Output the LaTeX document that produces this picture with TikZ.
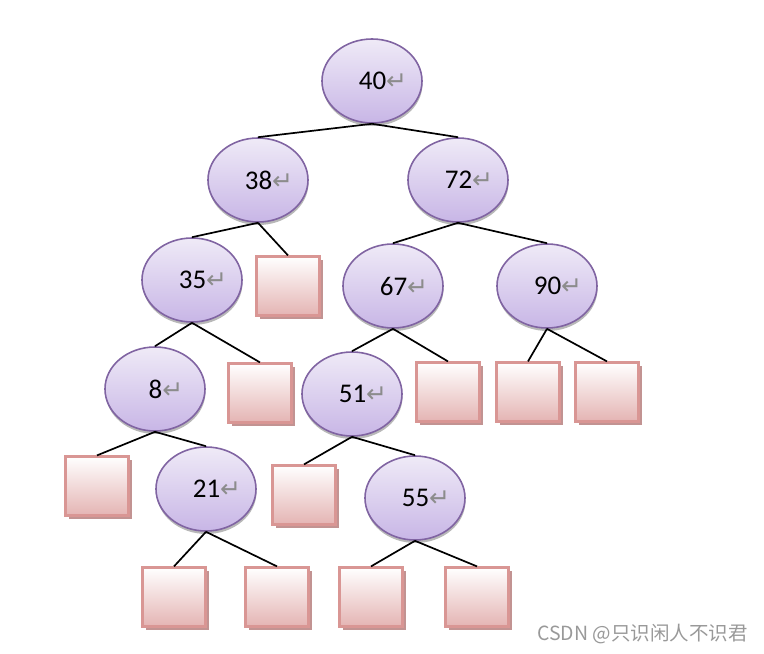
\documentclass[tikz,border=0pt]{standalone}
\usepackage{fontspec}
\setmainfont{Carlito}
\newfontfamily\djv{DejaVu Sans}
\newfontfamily\cjk{Noto Sans CJK SC}
\usetikzlibrary{shapes.geometric,shadows}
\definecolor{elborder}{HTML}{8064A2}
\definecolor{eltop}{HTML}{EFEAF7}
\definecolor{elbot}{HTML}{C8B6E6}
\definecolor{sqborder}{HTML}{D99694}
\definecolor{sqbot}{HTML}{E4B4B3}
\definecolor{sqshadow}{HTML}{C29392}
\newcommand{\rarr}{{\djv\fontsize{25}{25}\selectfont\color{black!45}↵}}
\tikzset{
  knot/.style={ellipse, draw=elborder, line width=1.6pt, minimum width=100pt, minimum height=84pt, inner sep=0pt,
    top color=eltop, bottom color=elbot,
    drop shadow={shadow xshift=0.5pt, shadow yshift=-3pt, fill=black!35, opacity=0.8},
    font=\fontsize{27}{27}\selectfont},
  leaf/.style={rectangle, draw=sqborder, line width=2.2pt, minimum width=63pt, minimum height=59pt, inner sep=0pt,
    top color=white, bottom color=sqbot,
    drop shadow={shadow xshift=3.5pt, shadow yshift=-3.5pt, fill=sqshadow, opacity=1}},
  edge/.style={line width=1.7pt, black}
}
\begin{document}
\begin{tikzpicture}[x=1pt,y=-1pt]
\useasboundingbox (0,0) rectangle (764,654);
% ellipses
\node[knot] (n40) at (372,81) {\hspace{22pt}40\rarr};
\node[knot] (n38) at (258,180) {\hspace{22pt}38\rarr};
\node[knot] (n72) at (458,180) {\hspace{22pt}72\rarr};
\node[knot] (n35) at (192,280) {\hspace{22pt}35\rarr};
\node[knot] (n67) at (393,286) {\hspace{22pt}67\rarr};
\node[knot] (n90) at (547,286) {\hspace{22pt}90\rarr};
\node[knot] (n8)  at (155,389) {\hspace{22pt}8\rarr};
\node[knot] (n51) at (352,394) {\hspace{22pt}51\rarr};
\node[knot] (n21) at (206,489) {\hspace{22pt}21\rarr};
\node[knot] (n55) at (415,498) {\hspace{22pt}55\rarr};
% squares
\node[leaf] (s38) at (288,286) {};
\node[leaf] (s35) at (260,393) {};
\node[leaf] (s67) at (448,392) {};
\node[leaf] (s90a) at (528,392) {};
\node[leaf] (s90b) at (607,392) {};
\node[leaf] (s8)  at (97,486) {};
\node[leaf] (s51) at (304,495) {};
\node[leaf] (s21a) at (174,597) {};
\node[leaf] (s21b) at (277,597) {};
\node[leaf] (s55a) at (371,597) {};
\node[leaf] (s55b) at (477,597) {};
% edges
\draw[edge] (n40.south) -- (n38.north);
\draw[edge] (n40.south) -- (n72.north);
\draw[edge] (n38.south) -- (n35.north);
\draw[edge] (n38.south) -- (s38.north);
\draw[edge] (n35.south) -- (n8.north);
\draw[edge] (n35.south) -- (s35.north);
\draw[edge] (n8.south) -- (s8.north);
\draw[edge] (n8.south) -- (n21.north);
\draw[edge] (n21.south) -- (s21a.north);
\draw[edge] (n21.south) -- (s21b.north);
\draw[edge] (n72.south) -- (n67.north);
\draw[edge] (n72.south) -- (n90.north);
\draw[edge] (n67.south) -- (n51.north);
\draw[edge] (n67.south) -- (s67.north);
\draw[edge] (n90.south) -- (s90a.north);
\draw[edge] (n90.south) -- (s90b.north);
\draw[edge] (n51.south) -- (s51.north);
\draw[edge] (n51.south) -- (n55.north);
\draw[edge] (n55.south) -- (s55a.north);
\draw[edge] (n55.south) -- (s55b.north);
% watermark
\node[anchor=east, text=black!40, font=\cjk\fontsize{19.5}{19.5}\selectfont, inner sep=0pt] (wm) at (748,634) {CSDN @只识闲人不识君};
\end{tikzpicture}
\end{document}
